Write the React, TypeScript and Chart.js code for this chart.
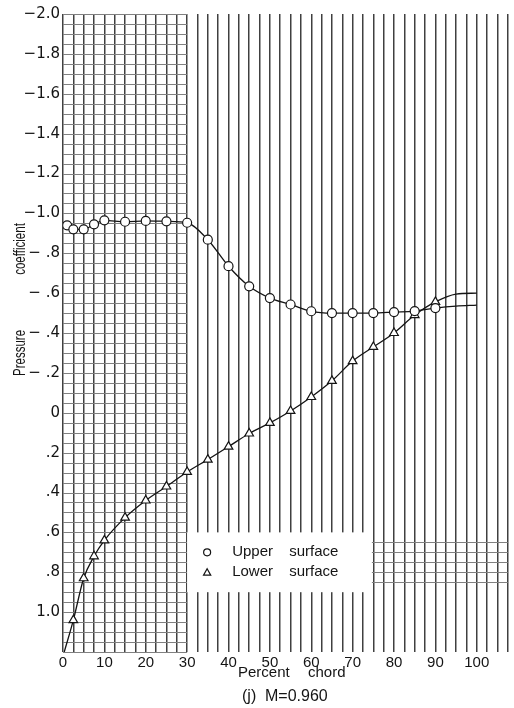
import React, { useEffect, useRef } from "react";
import { Chart, registerables } from "chart.js";

Chart.register(...registerables);

// ---------- data ----------
const UPPER_X = [1, 2.5, 5, 7.5, 10, 15, 20, 25, 30, 35, 40, 45, 50, 55, 60, 65, 70, 75, 80, 85, 90];
const UPPER_CP = [-0.94, -0.92, -0.92, -0.945, -0.965, -0.958, -0.962, -0.96, -0.953, -0.868, -0.735, -0.634, -0.575, -0.543, -0.509, -0.5, -0.5, -0.5, -0.505, -0.51, -0.525];

const LOWER_X = [2.5, 5, 7.5, 10, 15, 20, 25, 30, 35, 40, 45, 50, 55, 60, 65, 70, 75, 80, 85, 90];
const LOWER_CP = [1.04, 0.83, 0.72, 0.64, 0.526, 0.44, 0.37, 0.297, 0.235, 0.17, 0.104, 0.051, -0.009, -0.079, -0.16, -0.259, -0.33, -0.4, -0.49, -0.556];

// faired-curve extensions beyond the measured points
const UPPER_FAIR_END_X = [95, 100];
const UPPER_FAIR_END_CP = [-0.535, -0.54];
const LOWER_FAIR_START_X = [0.3];
const LOWER_FAIR_START_CP = [1.2];
const LOWER_FAIR_END_X = [95, 100];
const LOWER_FAIR_END_CP = [-0.595, -0.6];

// axis ticks
const X_TICKS = [0, 10, 20, 30, 40, 50, 60, 70, 80, 90, 100];
const X_LABELS = ["0", "10", "20", "30", "40", "50", "60", "70", "80", "90", "100"];
const Y_TICKS = [-2.0, -1.8, -1.6, -1.4, -1.2, -1.0, -0.8, -0.6, -0.4, -0.2, 0, 0.2, 0.4, 0.6, 0.8, 1.0];
const Y_LABELS = ["\u22122.0", "\u22121.8", "\u22121.6", "\u22121.4", "\u22121.2", "\u22121.0", "\u2212 .8", "\u2212 .6", "\u2212 .4", "\u2212 .2", "0", ".2", ".4", ".6", ".8", "1.0"];

const SERIES_NAMES = ["Upper surface", "Lower surface"];
const X_TITLE = ["Percent", "chord"];
const Y_TITLE = ["Pressure", "coefficient"];
const CAPTION = ["(j)", "M=0.960"];

const INK = "#141414";

const pts = (xs: number[], ys: number[]) => xs.map((x, i) => ({ x, y: ys[i] }));

function drawTriangle(ctx: CanvasRenderingContext2D, cx: number, cy: number, r: number) {
  ctx.beginPath();
  ctx.moveTo(cx, cy - r);
  ctx.lineTo(cx + r * 0.9, cy + r * 0.6);
  ctx.lineTo(cx - r * 0.9, cy + r * 0.6);
  ctx.closePath();
}

const paperGridPlugin = {
  id: "paperGrid",
  beforeDatasetsDraw(chart: any) {
    const { ctx, scales } = chart;
    const xs = scales.x;
    const ys = scales.y;
    ctx.save();
    ctx.strokeStyle = "#808080";
    ctx.lineWidth = 1;
    // horizontal rulings on the left part of the sheet
    const x0 = xs.getPixelForValue(0);
    const x1 = xs.getPixelForValue(30);
    for (let k = 0; k <= 64; k++) {
      const v = -2 + k * 0.05;
      const y = Math.round(ys.getPixelForValue(v)) + 0.5;
      ctx.beginPath();
      ctx.moveTo(x0, y);
      ctx.lineTo(x1, y);
      ctx.stroke();
    }
    // a few rulings on the right of the legend
    const x2 = xs.getPixelForValue(74.6);
    const x3 = xs.getPixelForValue(107.5);
    for (let k = 0; k <= 4; k++) {
      const v = 0.65 + k * 0.05;
      const y = Math.round(ys.getPixelForValue(v)) + 0.5;
      ctx.beginPath();
      ctx.moveTo(x2, y);
      ctx.lineTo(x3, y);
      ctx.stroke();
    }
    ctx.restore();
  },
};

const legendPlugin = {
  id: "boxLegend",
  afterDatasetsDraw(chart: any) {
    const { ctx, scales } = chart;
    const xs = scales.x;
    const ys = scales.y;
    const left = xs.getPixelForValue(30);
    const right = xs.getPixelForValue(74.6);
    const top = ys.getPixelForValue(0.6);
    const bottom = ys.getPixelForValue(0.9);
    ctx.save();
    ctx.fillStyle = "#ffffff";
    ctx.fillRect(left, top, right - left, bottom - top);
    const rows = [0.7, 0.8];
    ctx.strokeStyle = INK;
    ctx.lineWidth = 1.2;
    ctx.fillStyle = INK;
    ctx.font = '15px "Liberation Sans"';
    ctx.textBaseline = "middle";
    ctx.textAlign = "left";
    rows.forEach((v, i) => {
      const y = ys.getPixelForValue(v);
      const sx = left + 20;
      if (i === 0) {
        ctx.beginPath();
        ctx.arc(sx, y, 3.5, 0, Math.PI * 2);
        ctx.stroke();
      } else {
        drawTriangle(ctx, sx, y + 0.5, 4);
        ctx.stroke();
      }
      const [w1, w2] = SERIES_NAMES[i].split(" ");
      ctx.fillText(w1, left + 45, y);
      ctx.fillText(w2, left + 102, y);
    });
    ctx.restore();
  },
};

const titlesPlugin = {
  id: "titles",
  afterDraw(chart: any) {
    const { ctx, chartArea } = chart;
    ctx.save();
    ctx.fillStyle = INK;
    ctx.textBaseline = "middle";
    ctx.textAlign = "left";
    ctx.font = '15px "Liberation Sans"';
    const xt = chartArea.bottom + 21;
    ctx.fillText(X_TITLE[0], 238, xt);
    ctx.fillText(X_TITLE[1], 308, xt);
    ctx.font = '16px "Liberation Sans"';
    const ct = chartArea.bottom + 45;
    ctx.fillText(CAPTION[0], 242, ct);
    ctx.fillText(CAPTION[1], 265, ct);

    // rotated y-axis title, lettering condensed like the original
    ctx.font = '16px "Liberation Sans"';
    ctx.textAlign = "center";
    ctx.textBaseline = "alphabetic";
    const place = (txt: string, cy: number) => {
      ctx.save();
      ctx.translate(25, cy);
      ctx.rotate(-Math.PI / 2);
      ctx.scale(0.72, 1);
      ctx.fillText(txt, 0, 0);
      ctx.restore();
    };
    place(Y_TITLE[0], 353);
    place(Y_TITLE[1], 249);
    ctx.restore();
  },
};

export default function App() {
  const ref = useRef<HTMLCanvasElement>(null);

  useEffect(() => {
    const canvas = ref.current;
    if (!canvas) return;
    const chart = new Chart(canvas, {
      type: "line",
      data: {
        datasets: [
          {
            label: SERIES_NAMES[0],
            data: pts(UPPER_X, UPPER_CP),
            showLine: false,
            pointStyle: "circle",
            pointRadius: 4.5,
            pointBackgroundColor: "#ffffff",
            pointBorderColor: INK,
            pointBorderWidth: 1.2,
            order: 0,
          },
          {
            label: SERIES_NAMES[1],
            data: pts(LOWER_X, LOWER_CP),
            showLine: false,
            pointStyle: "triangle",
            pointRadius: 5,
            pointBackgroundColor: "#ffffff",
            pointBorderColor: INK,
            pointBorderWidth: 1.2,
            order: 0,
          },
          {
            label: "upper fairing",
            data: pts([...UPPER_X, ...UPPER_FAIR_END_X], [...UPPER_CP, ...UPPER_FAIR_END_CP]),
            borderColor: INK,
            borderWidth: 1.3,
            pointRadius: 0,
            cubicInterpolationMode: "monotone",
            fill: false,
            order: 1,
          },
          {
            label: "lower fairing",
            data: pts(
              [...LOWER_FAIR_START_X, ...LOWER_X, ...LOWER_FAIR_END_X],
              [...LOWER_FAIR_START_CP, ...LOWER_CP, ...LOWER_FAIR_END_CP]
            ),
            borderColor: INK,
            borderWidth: 1.3,
            pointRadius: 0,
            cubicInterpolationMode: "monotone",
            fill: false,
            order: 1,
          },
        ],
      },
      options: {
        responsive: false,
        animation: false,
        layout: { padding: { top: 14, right: 3, left: 0, bottom: 0 } },
        plugins: {
          legend: { display: false },
          tooltip: { enabled: false },
          title: { display: false },
        },
        scales: {
          x: {
            type: "linear",
            min: 0,
            max: 107.5,
            afterBuildTicks: (scale: any) => {
              const t = [];
              for (let k = 0; k <= 43; k++) t.push({ value: k * 2.5 });
              scale.ticks = t;
            },
            afterFit: (scale: any) => {
              scale.height = 56;
            },
            border: { display: false },
            grid: {
              display: true,
              drawTicks: false,
              color: "#404040",
              lineWidth: 1.5,
            },
            ticks: {
              autoSkip: false,
              maxRotation: 0,
              padding: 2,
              color: INK,
              font: { family: "Liberation Sans", size: 15 },
              callback: (v: any) => {
                const i = X_TICKS.indexOf(Number(v));
                return i >= 0 ? X_LABELS[i] : "";
              },
            },
          },
          y: {
            type: "linear",
            min: -2.0,
            max: 1.2,
            reverse: true,
            afterBuildTicks: (scale: any) => {
              scale.ticks = Y_TICKS.map((v) => ({ value: v }));
            },
            afterFit: (scale: any) => {
              scale.width = 63;
            },
            border: { display: false },
            grid: { display: false, drawTicks: false },
            ticks: {
              autoSkip: false,
              padding: 3,
              color: INK,
              font: { family: "DejaVu Sans", size: 15 },
              callback: (v: any) => {
                const i = Y_TICKS.findIndex((t) => Math.abs(t - Number(v)) < 1e-6);
                return i >= 0 ? Y_LABELS[i] : "";
              },
            },
          },
        },
      },
      plugins: [paperGridPlugin, legendPlugin, titlesPlugin],
    } as any);
    return () => chart.destroy();
  }, []);

  return (
    <div style={{ position: "fixed", left: 0, top: 0, width: 514, height: 708, background: "#ffffff" }}>
      <canvas ref={ref} width={514} height={708} style={{ display: "block" }} />
    </div>
  );
}
